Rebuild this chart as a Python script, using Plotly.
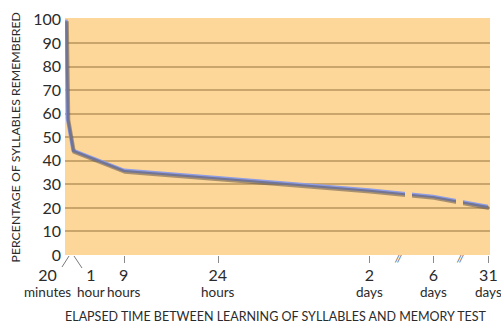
import numpy as np
import plotly.graph_objects as go

# ---- data (Ebbinghaus forgetting curve) ----
elapsed_hours = [0, 1/3, 1, 9, 24, 48, 144, 744]
pct_remembered = [100, 58, 44.5, 36, 32.8, 27.6, 24.9, 20.6]

tick_hours = [1/3, 1, 9, 24, 48, 144, 744]
tick_numbers = ["20", "1", "9", "24", "2", "6", "31"]
tick_units = ["minutes", "hour", "hours", "hours", "days", "days", "days"]
y_ticks = list(range(0, 101, 10))

# ---- custom broken time scale: hours -> axis units ----
scale_hours = [0, 1/3, 1, 9, 24, 48, 144, 744]
scale_units = [1, 2.5, 8, 59, 153, 304, 368, 423]
def tscale(h):
    return float(np.interp(h, scale_hours, scale_units))

break_hours = [96, 480]  # positions of axis breaks (between 2d-6d and 6d-31d)

xs = [tscale(h) for h in elapsed_hours]

BG = "#FDD69A"
GRID = "#C9A56C"
FONT = "Lato"
TXT = "#2b2b2b"

PW, PH = 425, 237  # plot area in px

fig = go.Figure()
# shadow
fig.add_trace(go.Scatter(x=xs, y=pct_remembered, mode="lines",
                         line=dict(color="rgba(85,75,65,0.5)", width=3.6),
                         xaxis="x2", yaxis="y2", hoverinfo="skip", showlegend=False))
# main line
fig.add_trace(go.Scatter(x=xs, y=pct_remembered, mode="lines",
                         line=dict(color="#8E9DE6", width=3.4),
                         showlegend=False))

XR = [0, 425]
YR = [0, 100.7]
dx = 1.0
dy = 1.6 * (YR[1] - YR[0]) / PH

tick_pos = [tscale(h) for h in tick_hours]

fig.update_layout(
    template="none",
    width=501, height=327,
    margin=dict(l=65, r=11, t=18, b=72, pad=0),
    paper_bgcolor="white", plot_bgcolor=BG,
    font=dict(family=FONT, color=TXT),
    xaxis=dict(range=XR, showgrid=False, zeroline=False, showline=False, automargin=False,
               tickvals=tick_pos[2:], ticks="outside", ticklen=7, tickwidth=1,
               tickcolor="#8a8a8a", showticklabels=False, fixedrange=True),
    yaxis=dict(range=YR, showgrid=False, zeroline=False, showline=False, automargin=False,
               tickvals=y_ticks, ticktext=[str(v) for v in y_ticks],
               tickfont=dict(size=16, color=TXT), ticks="", ticklabelstandoff=3),
    xaxis2=dict(range=[XR[0] - dx, XR[1] - dx], overlaying="x", visible=False, automargin=False),
    yaxis2=dict(range=[YR[0] + dy, YR[1] + dy], overlaying="y", visible=False, automargin=False),
    yaxis3=dict(range=YR, overlaying="y", showgrid=True, gridcolor=GRID, gridwidth=1.5,
                tickvals=y_ticks[1:-1], showticklabels=False, zeroline=False, ticks="",
                showline=False, layer="below traces", automargin=False),
)
# dummy trace to activate grid axis
fig.add_trace(go.Scatter(x=[None], y=[None], yaxis="y3", showlegend=False))

def px_y(py):  # pixel row -> paper y
    return (255 - py) / PH

def px_x(pxx):  # pixel col -> paper x
    return (pxx - 65) / PW

shapes = []
# masks making gaps in the line at the axis breaks
mask_spans = [((340, 347), (23, 29.5)), ((391, 398), (20.7, 26.5))]
for (xa, xb), (ya, yb) in mask_spans:
    shapes.append(dict(type="rect", xref="x", yref="y", x0=xa, x1=xb, y0=ya, y1=yb,
                       fillcolor=BG, line=dict(width=0), layer="above"))
# slanted leader ticks for 20 minutes and 1 hour
shapes.append(dict(type="line", xref="paper", yref="paper", x0=px_x(69), y0=px_y(256),
                   x1=px_x(62), y1=px_y(267), line=dict(color="#7a7a7a", width=1)))
shapes.append(dict(type="line", xref="paper", yref="paper", x0=px_x(74), y0=px_y(256),
                   x1=px_x(82), y1=px_y(268), line=dict(color="#7a7a7a", width=1)))
fig.update_layout(shapes=shapes)

ann = []
label_px = [47, 91] + [65 + p * PW / (XR[1] - XR[0]) for p in tick_pos[2:]]
for lx, num, unit in zip(label_px, tick_numbers, tick_units):
    txt = (f"<span style='font-size:16px'>{num}</span><br>"
           f"<span style='font-size:13.5px'>{unit}</span>")
    ann.append(dict(x=px_x(lx), y=px_y(282.5), xref="paper", yref="paper", text=txt,
                    showarrow=False, font=dict(size=12, color=TXT),
                    xanchor="center", yanchor="middle", borderpad=0))
for bh in break_hours:
    bx = 65 + tscale(bh) * PW / (XR[1] - XR[0])
    ann.append(dict(x=px_x(bx - 3.5), y=px_y(258), xref="paper", yref="paper", text="<i>//</i>",
                    showarrow=False, font=dict(size=10, color="#555"),
                    xanchor="center", yanchor="middle"))
ann.append(dict(x=px_x(15), y=px_y(137.5), xref="paper", yref="paper",
                text="PERCENTAGE OF SYLLABLES REMEMBERED", textangle=-90, showarrow=False,
                font=dict(size=12.3, color=TXT), xanchor="center", yanchor="middle"))
ann.append(dict(x=px_x(276), y=px_y(316), xref="paper", yref="paper",
                text="ELAPSED TIME BETWEEN LEARNING OF SYLLABLES AND MEMORY TEST",
                showarrow=False, font=dict(size=12.5, color=TXT),
                xanchor="center", yanchor="middle"))
fig.update_layout(annotations=ann)

fig.write_html("out.html", config={"displayModeBar": False},
               post_script="document.body.style.margin='0';document.body.style.overflow='hidden';")
